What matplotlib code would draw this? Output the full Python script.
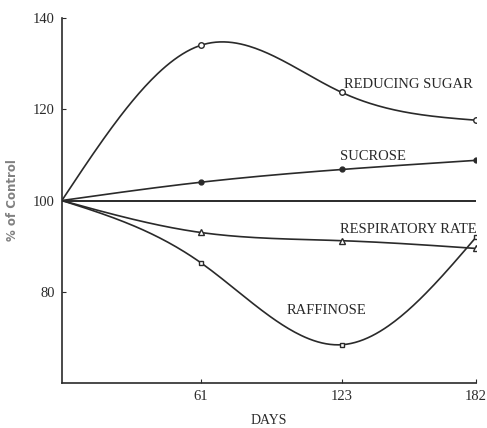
import numpy as np
import matplotlib
matplotlib.use("Agg")
import matplotlib.pyplot as plt

days = [0, 61, 123, 182]
reducing_sugar = [100, 134, 123.7, 117.6]
sucrose = [100, 104, 106.8, 108.8]
respiratory_rate = [100, 93, 91.2, 89.5]
raffinose = [100, 86.4, 68.4, 91.9]


# natural cubic spline so the curves look hand drawn like the original
def spline(x, y, n=200):
    x = np.asarray(x, float)
    y = np.asarray(y, float)
    k = len(x)
    h = np.diff(x)
    A = np.zeros((k, k))
    b = np.zeros(k)
    A[0, 0] = A[-1, -1] = 1
    for i in range(1, k - 1):
        A[i, i - 1] = h[i - 1]
        A[i, i] = 2 * (h[i - 1] + h[i])
        A[i, i + 1] = h[i]
        b[i] = 6 * ((y[i + 1] - y[i]) / h[i] - (y[i] - y[i - 1]) / h[i - 1])
    m = np.linalg.solve(A, b)
    xs = np.linspace(x[0], x[-1], n)
    ys = np.empty_like(xs)
    for j, xv in enumerate(xs):
        i = min(np.searchsorted(x, xv, side="right") - 1, k - 2)
        t = xv - x[i]
        hi = h[i]
        a = (m[i + 1] - m[i]) / (6 * hi)
        c = m[i] / 2
        d = (y[i + 1] - y[i]) / hi - hi * (2 * m[i] + m[i + 1]) / 6
        ys[j] = y[i] + d * t + c * t ** 2 + a * t ** 3
    return xs, ys


plt.rcParams['font.family'] = ['Liberation Serif', 'DejaVu Serif']
ink = '#2a2a2a'

fig = plt.figure(figsize=(4.87, 4.28), dpi=100)
ax = fig.add_axes([0.127, 0.105, 0.85, 0.853])

series = [
    (reducing_sugar, 'o', 'white', 4),
    (sucrose, 'o', ink, 3.5),
    (respiratory_rate, '^', 'white', 4),
    (raffinose, 's', 'white', 3.5),
]
for vals, mk, fc, ms in series:
    xs, ys = spline(days, vals)
    ax.plot(xs, ys, color=ink, lw=1.2)
    ax.plot(days[1:], vals[1:], mk, ms=ms, mfc=fc, mec=ink, mew=1, ls='none')

ax.plot([0, 182], [100, 100], color=ink, lw=1.4)

lab = dict(fontsize=10.5, color=ink, va='center', clip_on=False)
ax.text(124, 125.5, 'REDUCING SUGAR', **lab)
ax.text(122.5, 109.7, 'SUCROSE', **lab)
ax.text(122.5, 93.6, 'RESPIRATORY RATE', **lab)
ax.text(98.7, 75.8, 'RAFFINOSE', **lab)

ax.set_xlim(0, 182)
ax.set_ylim(60, 140)
ax.set_xticks([61, 123, 182])
ax.set_yticks([80, 100, 120, 140])
ax.tick_params(direction='in', length=3, color=ink, labelcolor=ink, labelsize=10.5, pad=5)
ax.spines['top'].set_visible(False)
ax.spines['right'].set_visible(False)
for s in ['left', 'bottom']:
    ax.spines[s].set_color(ink)
    ax.spines[s].set_linewidth(1.2)
ax.set_xlabel('DAYS', fontsize=10, color=ink, labelpad=8)
ax.set_ylabel('% of Control', fontsize=8.5, color='#808080', labelpad=10,
              family='DejaVu Sans', fontweight='bold')

fig.savefig('out.png', dpi=100)
